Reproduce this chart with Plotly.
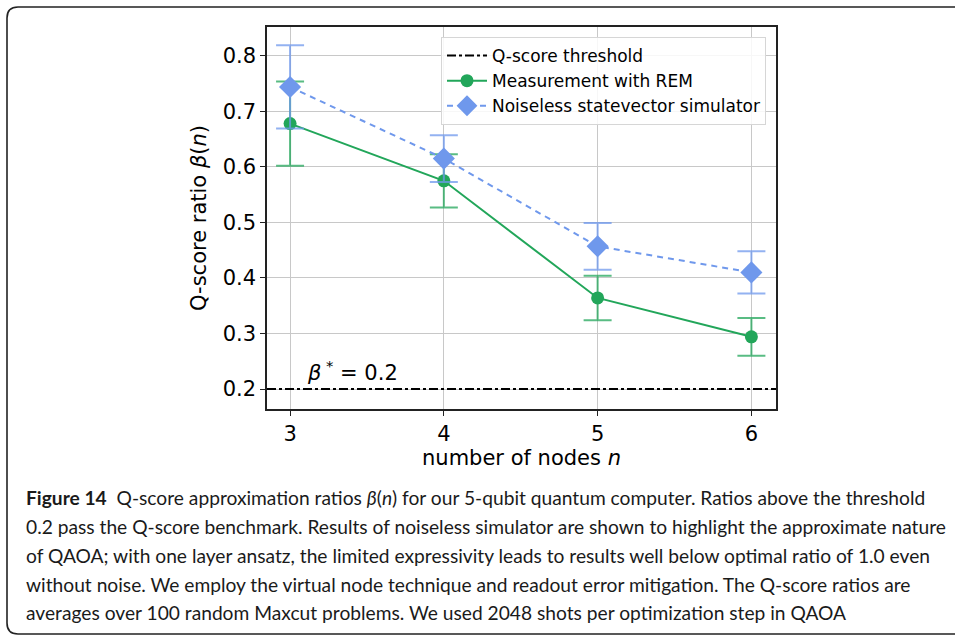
import plotly.graph_objects as go

# ---- data ----
nodes = [3, 4, 5, 6]
rem_vals = [0.678, 0.575, 0.364, 0.294]
rem_err = [0.076, 0.048, 0.040, 0.034]
sim_vals = [0.744, 0.615, 0.457, 0.410]
sim_err = [0.075, 0.042, 0.042, 0.038]
threshold = 0.2
x_ticks = [3, 4, 5, 6]
y_ticks = [0.2, 0.3, 0.4, 0.5, 0.6, 0.7, 0.8]

caption_lines = [
    "<b>Figure 14</b>  Q-score approximation ratios <i>β</i>(<i>n</i>) for our 5-qubit quantum computer. Ratios above the threshold",
    "0.2 pass the Q-score benchmark. Results of noiseless simulator are shown to highlight the approximate nature",
    "of QAOA; with one layer ansatz, the limited expressivity leads to results well below optimal ratio of 1.0 even",
    "without noise. We employ the virtual node technique and readout error mitigation. The Q-score ratios are",
    "averages over 100 random Maxcut problems. We used 2048 shots per optimization step in QAOA",
]

GREEN = "#22a65a"
BLUE = "#6f98ec"
W, H = 955, 635
L, R, T, B = 267, 776, 27, 409
XR = [2.85, 6.16]
YR = [0.164, 0.852]

def px(x):
    return (x - L) / (R - L)

def py(y):
    return 1 - (y - T) / (B - T)

fig = go.Figure()

fig.add_trace(go.Scatter(
    x=XR, y=[threshold, threshold], mode="lines",
    line=dict(color="black", width=2, dash="dashdot"),
    name="Q-score threshold", hoverinfo="skip"))

fig.add_trace(go.Scatter(
    x=nodes, y=rem_vals, mode="lines+markers",
    line=dict(color=GREEN, width=2),
    marker=dict(color=GREEN, size=13, symbol="circle"),
    error_y=dict(type="data", array=rem_err, color="rgba(34,166,90,0.75)", thickness=2, width=14),
    name="Measurement with REM"))

fig.add_trace(go.Scatter(
    x=nodes, y=sim_vals, mode="lines+markers",
    line=dict(color=BLUE, width=2, dash="6px,5px"),
    marker=dict(color=BLUE, size=17, symbol="diamond"),
    error_y=dict(type="data", array=sim_err, color="rgba(111,152,236,0.75)", thickness=2, width=14),
    name="Noiseless statevector simulator"))

axis_font = dict(family="DejaVu Sans", size=21, color="black")

fig.update_layout(
    width=W, height=H,
    margin=dict(l=L, r=W - R, t=T, b=H - B),
    paper_bgcolor="white", plot_bgcolor="white",
    showlegend=True,
    legend=dict(x=px(766), y=py(37), xanchor="right", yanchor="top",
                bgcolor="rgba(255,255,255,0.85)", bordercolor="#d6d6d6", borderwidth=1,
                font=dict(family="DejaVu Sans", size=17, color="black"),
                tracegroupgap=0, itemwidth=40),
    xaxis=dict(range=XR, tickvals=x_ticks, ticktext=[str(v) for v in x_ticks],
               showgrid=True, gridcolor="#c8c8c8", gridwidth=1, zeroline=False,
               showline=True, linecolor="#222", linewidth=1.5, mirror=True,
               ticks="outside", ticklen=5, tickcolor="#222", tickfont=axis_font,
               title=dict(text="number of nodes <i>n</i>", font=axis_font, standoff=2)),
    yaxis=dict(range=YR, tickvals=y_ticks, ticktext=[f"{v:.1f}" for v in y_ticks],
               showgrid=True, gridcolor="#c8c8c8", gridwidth=1, zeroline=False,
               showline=True, linecolor="#222", linewidth=1.5, mirror=True,
               ticks="outside", ticklen=5, tickcolor="#222", tickfont=axis_font,
               title=dict(text="Q-score ratio <i>β</i>(<i>n</i>)", font=axis_font, standoff=10)),
)

fig.add_annotation(x=3.1, y=threshold, xref="x", yref="y", yshift=18,
                   text="<i>β</i><sup> *</sup> = 0.2", showarrow=False,
                   xanchor="left", yanchor="middle", font=axis_font)

# caption
cap_y = [497, 526, 555, 584, 612]
for line, yy in zip(caption_lines, cap_y):
    fig.add_annotation(x=px(24), y=py(yy), xref="paper", yref="paper",
                       text=line, showarrow=False, xanchor="left", yanchor="middle",
                       font=dict(family="Lato", size=19.2, color="#1a1a1a"))

# rounded frame
x0, y0, x1, y1, r = 7, 7, 975, 634, 11
path = (f"M {px(x0)},{py(y1 - r)} L {px(x0)},{py(y0 + r)} "
        f"Q {px(x0)},{py(y0)} {px(x0 + r)},{py(y0)} L {px(x1)},{py(y0)}")
fig.add_shape(type="path", path=path, xref="paper", yref="paper",
              line=dict(color="#222", width=1.6), layer="above")
path2 = (f"M {px(x0)},{py(y1 - r)} Q {px(x0)},{py(y1)} {px(x0 + r)},{py(y1)} L {px(x1)},{py(y1)}")
fig.add_shape(type="path", path=path2, xref="paper", yref="paper",
              line=dict(color="#222", width=1.6), layer="above")

fig.write_html("out.html")
